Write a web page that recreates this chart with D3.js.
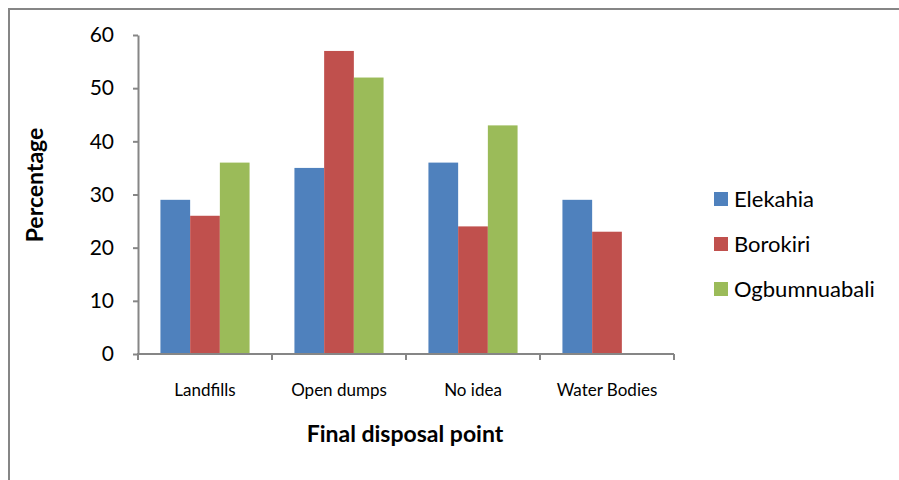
<!DOCTYPE html>
<html>
<head>
<meta charset="utf-8">
<script src="https://cdn.jsdelivr.net/npm/d3@7/dist/d3.min.js"></script>
<style>
  html, body { margin: 0; padding: 0; background: #fff; }
  svg { display: block; }
  text { font-family: Lato, "Open Sans", sans-serif; fill: #000; }
</style>
</head>
<body>
<svg id="chart" width="899" height="480"></svg>
<script>
// Disposal point categories and the share (%) reported per community
const categories = ["Landfills", "Open dumps", "No idea", "Water Bodies"];
const seriesNames = ["Elekahia", "Borokiri", "Ogbumnuabali"];
const elekahia = [29, 35, 36, 29];
const borokiri = [26, 57, 24, 23];
const ogbumnuabali = [36, 52, 43, 0];
const seriesColors = ["#4F81BD", "#C0504D", "#9BBB59"];
const yTicks = [0, 10, 20, 30, 40, 50, 60];

const values = [elekahia, borokiri, ogbumnuabali];
const rows = categories.map((c, i) => ({
  category: c,
  items: seriesNames.map((s, j) => ({ series: s, value: values[j][i] }))
}));

const svg = d3.select("#chart");
const axisColor = "#868686";

// Outer chart frame (left and top edges)
svg.append("path")
  .attr("d", "M9,480 L9,9 L899,9")
  .attr("fill", "none")
  .attr("stroke", axisColor)
  .attr("stroke-width", 2);

const plot = { left: 138, right: 674, top: 35, bottom: 354 };

const x = d3.scaleBand()
  .domain(categories)
  .range([plot.left, plot.right])
  .paddingInner(0)
  .paddingOuter(0);

const xInner = d3.scaleBand()
  .domain(seriesNames)
  .range([0, x.bandwidth()])
  .paddingInner(0)
  .paddingOuter(0.755);

const y = d3.scaleLinear()
  .domain([0, 60])
  .range([plot.bottom, plot.top]);

const color = d3.scaleOrdinal().domain(seriesNames).range(seriesColors);

// Bars
const groups = svg.append("g")
  .selectAll("g")
  .data(rows)
  .join("g")
  .attr("transform", d => `translate(${x(d.category)},0)`);

groups.selectAll("rect")
  .data(d => d.items.filter(it => it.value > 0))
  .join("rect")
  .attr("x", d => xInner(d.series))
  .attr("width", xInner.bandwidth())
  .attr("y", d => y(d.value))
  .attr("height", d => y(0) - y(d.value))
  .attr("fill", d => color(d.series));

// Y axis
const yAxis = svg.append("g")
  .attr("transform", `translate(${plot.left},0)`)
  .call(d3.axisLeft(y).tickValues(yTicks).tickSize(5).tickPadding(19).tickSizeOuter(0));
yAxis.select(".domain").attr("stroke", axisColor).attr("stroke-width", 2);
yAxis.selectAll(".tick line").attr("stroke", axisColor).attr("stroke-width", 2);
yAxis.selectAll(".tick text")
  .style("font-size", "21px")
  .attr("fill", "#000");

// X axis: ticks between categories
const xAxis = svg.append("g")
  .attr("transform", `translate(0,${plot.bottom})`);
xAxis.append("line")
  .attr("x1", plot.left - 1).attr("x2", plot.right)
  .attr("stroke", axisColor).attr("stroke-width", 2);
const boundaries = categories.map(c => x(c)).concat([x(categories[categories.length - 1]) + x.bandwidth()]);
xAxis.selectAll("line.tick")
  .data(boundaries)
  .join("line")
  .attr("class", "tick")
  .attr("x1", d => d).attr("x2", d => d)
  .attr("y1", 0).attr("y2", 6)
  .attr("stroke", axisColor).attr("stroke-width", 2);
xAxis.selectAll("text")
  .data(categories)
  .join("text")
  .attr("x", d => x(d) + x.bandwidth() / 2)
  .attr("y", 42)
  .attr("text-anchor", "middle")
  .style("font-size", "17px")
  .text(d => d);

// Axis titles
svg.append("text")
  .attr("x", 405)
  .attr("y", 442)
  .attr("text-anchor", "middle")
  .style("font-size", "23px")
  .style("font-weight", "bold")
  .text("Final disposal point");

svg.append("text")
  .attr("transform", "translate(43,185) rotate(-90)")
  .attr("text-anchor", "middle")
  .style("font-size", "23px")
  .style("font-weight", "bold")
  .text("Percentage");

// Legend
const legend = svg.append("g")
  .selectAll("g")
  .data(seriesNames)
  .join("g")
  .attr("transform", (d, i) => `translate(714,${199 + i * 45})`);
legend.append("rect")
  .attr("x", 0).attr("y", -7)
  .attr("width", 14).attr("height", 14)
  .attr("fill", d => color(d));
legend.append("text")
  .attr("x", 20)
  .attr("y", 8)
  .style("font-size", "22px")
  .text(d => d);
</script>
</body>
</html>
